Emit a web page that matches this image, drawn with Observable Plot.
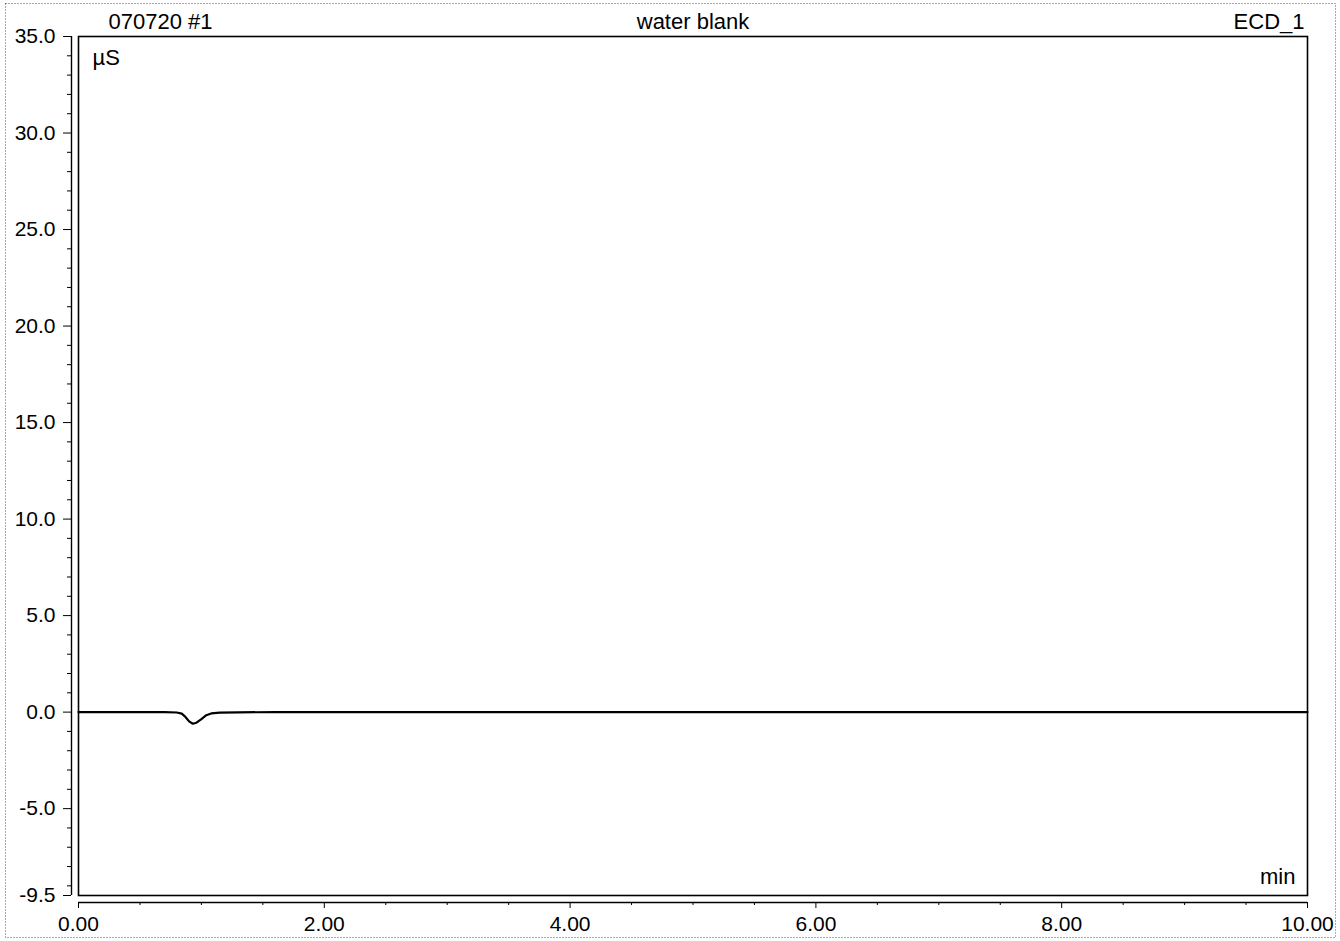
<!DOCTYPE html>
<html>
<head>
<meta charset="utf-8">
<script src="https://cdn.jsdelivr.net/npm/d3@7"></script>
<script src="https://cdn.jsdelivr.net/npm/@observablehq/plot@0.6"></script>
<style>
  html, body { margin: 0; padding: 0; background: #fff; }
  #chart svg { display: block; }
</style>
</head>
<body>
<div id="chart"></div>
<script>
// Chromatogram trace: retention time (min) and conductivity (µS)
const time = [0, 0.2, 0.4, 0.6, 0.7, 0.8, 0.84, 0.87, 0.9, 0.93, 0.96, 1.0, 1.04, 1.08, 1.15, 1.3, 1.6, 2, 3, 4, 5, 6, 7, 8, 9, 10];
const signal = [0, 0, 0, 0, 0, -0.02, -0.08, -0.25, -0.48, -0.6, -0.55, -0.36, -0.16, -0.07, -0.03, -0.01, 0, 0, 0, 0, 0, 0, 0, 0, 0, 0];

const yMajor = [35, 30, 25, 20, 15, 10, 5, 0, -5, -9.5];
const yMinor = [34,33,32,31,29,28,27,26,24,23,22,21,19,18,17,16,14,13,12,11,9,8,7,6,4,3,2,1,-1,-2,-3,-4,-6,-7,-8,-9];
const xMajor = [0, 2, 4, 6, 8, 10];
const xMinor = [0.5,1,1.5,2.5,3,3.5,4.5,5,5.5,6.5,7,7.5,8.5,9,9.5];

const headerLeft = "070720 #1";
const headerCenter = "water blank";
const headerRight = "ECD_1";
const yUnit = "µS";
const xUnit = "min";

const data = time.map((t, i) => ({t, v: signal[i]}));
const font = "'Liberation Sans', Arial, sans-serif";

const chart = Plot.plot({
  width: 1340,
  height: 941,
  marginLeft: 78,
  marginRight: 33,
  marginTop: 36,
  marginBottom: 46,
  x: {domain: [0, 10], label: null},
  y: {domain: [-9.5, 35], label: null},
  style: {fontFamily: font, fontSize: "21px", color: "#000", background: "#fff", overflow: "visible"},
  marks: [
    // outer scanned page border
    Plot.frame({insetLeft: -73, insetTop: -33, insetRight: -28, insetBottom: -42, stroke: "#555", strokeDasharray: "1,2", strokeWidth: 1}),
    // plot frame
    Plot.frame({stroke: "#000", strokeWidth: 1.6}),
    // y axis line (offset left of frame)
    Plot.ruleX([0], {y1: -9.5, y2: 35, dx: -7, stroke: "#000", strokeWidth: 1.4}),
    Plot.axisY({ticks: yMajor, tickSize: 8, dx: -7, tickPadding: 8, label: null, tickFormat: d => d.toFixed(1), fontSize: 21}),
    Plot.axisY({ticks: yMinor, tickSize: 4, dx: -7, label: null, tickFormat: () => ""}),
    // x axis line (offset below frame)
    Plot.ruleY([-9.5], {x1: 0, x2: 10, dy: 7, stroke: "#000", strokeWidth: 1.4}),
    Plot.axisX({ticks: xMajor, tickSize: 6, dy: 7, tickPadding: 8, label: null, tickFormat: d => d.toFixed(2), fontSize: 21}),
    Plot.axisX({ticks: xMinor, tickSize: 3, dy: 7, label: null, tickFormat: () => ""}),
    // trace
    Plot.line(data, {x: "t", y: "v", stroke: "#000", strokeWidth: 2.2}),
    // header texts
    Plot.text([headerLeft], {frameAnchor: "top-left", dx: 30, dy: -15, textAnchor: "start", lineAnchor: "middle", fontSize: 22}),
    Plot.text([headerCenter], {frameAnchor: "top", dy: -15, lineAnchor: "middle", fontSize: 22}),
    Plot.text([headerRight], {frameAnchor: "top-right", dx: -3, dy: -15, textAnchor: "end", lineAnchor: "middle", fontSize: 22}),
    // unit labels inside frame
    Plot.text([yUnit], {frameAnchor: "top-left", dx: 14, dy: 21, textAnchor: "start", lineAnchor: "middle", fontSize: 22}),
    Plot.text([xUnit], {frameAnchor: "bottom-right", dx: -12, dy: -19, textAnchor: "end", lineAnchor: "middle", fontSize: 22})
  ]
});
document.getElementById("chart").appendChild(chart);
</script>
</body>
</html>
